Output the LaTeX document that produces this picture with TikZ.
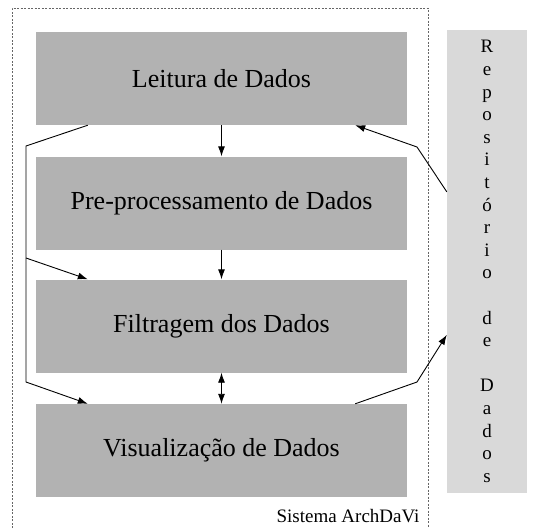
\documentclass[tikz,border=0pt]{standalone}
\usepackage{fontspec}
\setmainfont{Liberation Serif}
\usetikzlibrary{calc,arrows.meta}

\tikzset{
  etapa/.style={fill=black!30, minimum width=371pt, minimum height=93pt, inner sep=0pt, font=\fontsize{26}{30}\selectfont},
  repo/.style={fill=black!15, minimum width=80pt, minimum height=463pt, inner sep=0pt, align=center, font=\fontsize{19}{22.6}\selectfont},
  fluxo/.style={line width=0.9pt},
  limite/.style={black!60, line width=0.8pt, dash pattern=on 2pt off 1.5pt},
}

\begin{document}
\begin{tikzpicture}[x=1pt,y=-1pt,>={Latex[length=10pt,width=7pt]}]
			%%%%% START %%%%%
			\useasboundingbox (0,0) rectangle (535,528);
			
			% sistema
			\draw[limite] (12,528) -- (12,8) -- (428,8) -- (428,528);
			\node[anchor=base east, font=\fontsize{19}{22}\selectfont] (sistema) at (423,522) {Sistema ArchDaVi};
			
			% etapas
			\node[etapa] (leitura) at (221.5,78.5) {Leitura de Dados};
			\node[etapa] (preproc) at (221.5,203) {Pre-processamento de Dados};
			\node[etapa] (filtragem) at (221.5,326) {Filtragem dos Dados};
			\node[etapa] (visual) at (221.5,450.5) {Visualização de Dados};
			
			% repositorio
			\node[repo] (repositorio) at (487,261.5) {R\\e\\p\\o\\s\\i\\t\\ó\\r\\i\\o\\[22.6pt]d\\e\\[22.6pt]D\\a\\d\\o\\s};
			
			\draw[fluxo,->] (leitura) -- (preproc);
			\draw[fluxo,->] (preproc) -- (filtragem);
			\draw[fluxo,<->] (filtragem) -- (visual);
			
			% desvio pela esquerda
			\coordinate (esq1) at (26,146);
			\coordinate (esq2) at (26,258);
			\coordinate (esq3) at (26,382);
			\draw[fluxo,->] ($(leitura.south west)+(52,0)$) -- (esq1) -- (esq3) -- ($(visual.north west)+(52,0)$);
			\draw[fluxo,->] (esq2) -- ($(filtragem.north west)+(52,0)$);
			
			% ligacoes com o repositorio
			\coordinate (dir1) at (417,147);
			\coordinate (dir2) at (417,382);
			\draw[fluxo,->] ($(repositorio.north west)+(0,162)$) -- (dir1) -- ($(leitura.south east)+(-52,0)$);
			\draw[fluxo,->] ($(visual.north east)+(-52,0)$) -- (dir2) -- ($(repositorio.north west)+(0,305)$);
			
			%%%%% END %%%%%
\end{tikzpicture}
\end{document}
